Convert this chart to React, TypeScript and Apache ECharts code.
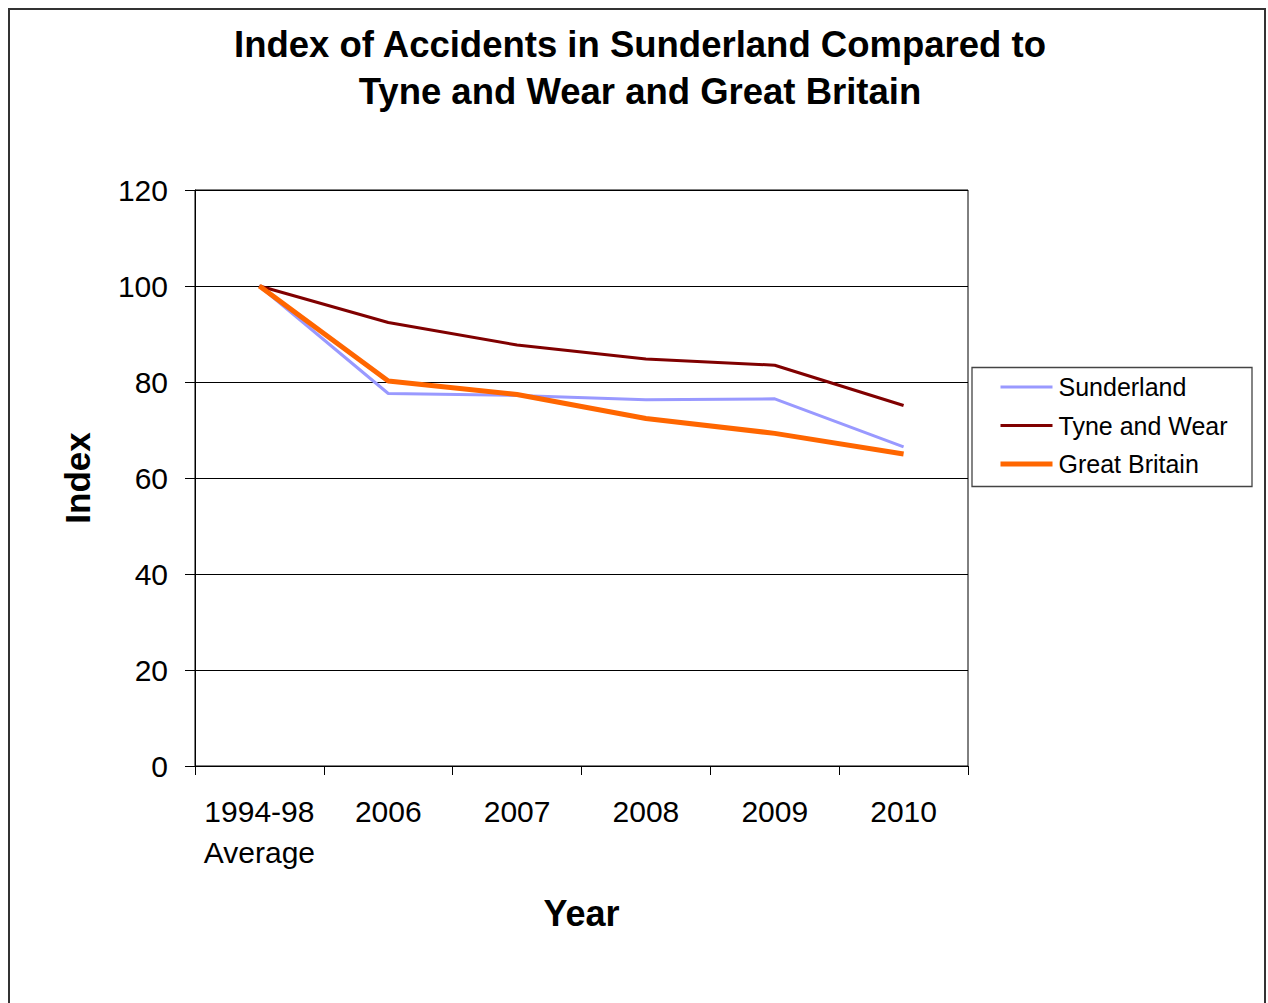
import React, { useEffect, useRef } from "react";
import * as echarts from "echarts";

const categories = ["1994-98\nAverage", "2006", "2007", "2008", "2009", "2010"];
const sunderland = [100, 77.6, 77.2, 76.3, 76.5, 66.5];
const tyneAndWear = [100, 92.4, 87.7, 84.8, 83.5, 75.1];
const greatBritain = [100, 80.2, 77.4, 72.4, 69.3, 65.0];
const yTicks = { min: 0, max: 120, interval: 20 };

const FONT = "'Liberation Sans', Arial, sans-serif";

export default function App() {
  const ref = useRef<HTMLDivElement>(null);
  useEffect(() => {
    document.body.style.margin = "0";
    document.body.style.overflow = "hidden";
    const chart = echarts.init(ref.current!, null, { renderer: "svg" });
    chart.setOption({
      animation: false,
      backgroundColor: "#ffffff",
      textStyle: { fontFamily: FONT },
      title: {
        text: "Index of Accidents in Sunderland Compared to\nTyne and Wear and Great Britain",
        left: 640,
        textAlign: "center",
        top: 21,
        padding: 0,
        textStyle: {
          fontFamily: FONT,
          fontSize: 36.5,
          fontWeight: "bold",
          lineHeight: 47,
          color: "#000",
        },
      },
      graphic: [
        {
          type: "rect",
          shape: { x: 9, y: 9, width: 1256, height: 1100 },
          style: { fill: "none", stroke: "#333", lineWidth: 2 },
          silent: true,
        },
        {
          type: "rect",
          shape: { x: 972, y: 367.5, width: 280, height: 119 },
          style: { fill: "#fff", stroke: "#444", lineWidth: 1.3 },
          z: 0,
          silent: true,
        },
      ],
      legend: {
        orient: "vertical",
        left: 998,
        top: 374.5,
        padding: 0,
        itemWidth: 52,
        itemHeight: 14,
        itemGap: 13.5,
        z: 10,
        itemStyle: { opacity: 0 },
        textStyle: {
          fontFamily: FONT,
          fontSize: 25,
          lineHeight: 25,
          color: "#000",
          padding: [0, 0, 0, 1],
        },
        data: [
          { name: "Sunderland", lineStyle: { width: 3 } },
          { name: "Tyne and Wear", lineStyle: { width: 3 } },
          { name: "Great Britain", lineStyle: { width: 5 } },
        ],
      },
      grid: {
        left: 195,
        top: 190,
        width: 773,
        height: 576,
        show: true,
        borderColor: "#000",
        borderWidth: 1,
        backgroundColor: "transparent",
      },
      xAxis: {
        type: "category",
        data: categories,
        boundaryGap: true,
        name: "Year",
        nameLocation: "middle",
        nameGap: 129,
        nameTextStyle: { fontFamily: FONT, fontSize: 36, fontWeight: "bold", color: "#000" },
        axisLine: { lineStyle: { color: "#000", width: 1 } },
        axisTick: { show: true, length: 9, alignWithLabel: false, lineStyle: { color: "#000" } },
        axisLabel: {
          fontFamily: FONT,
          fontSize: 30,
          lineHeight: 41,
          color: "#000",
          margin: 25,
          interval: 0,
        },
        splitLine: { show: false },
      },
      yAxis: {
        type: "value",
        min: yTicks.min,
        max: yTicks.max,
        interval: yTicks.interval,
        name: "Index",
        nameLocation: "middle",
        nameGap: 100,
        nameRotate: 90,
        nameTextStyle: { fontFamily: FONT, fontSize: 35, fontWeight: "bold", color: "#000" },
        axisLine: { show: true, lineStyle: { color: "#000", width: 1 } },
        axisTick: { show: true, length: 10, lineStyle: { color: "#000" } },
        axisLabel: { fontFamily: FONT, fontSize: 30, color: "#000", margin: 27 },
        splitLine: { show: true, lineStyle: { color: "#000", width: 1 } },
      },
      series: [
        {
          name: "Sunderland",
          type: "line",
          data: sunderland,
          symbol: "none",
          color: "#9999FF",
          lineStyle: { color: "#9999FF", width: 3 },
        },
        {
          name: "Tyne and Wear",
          type: "line",
          data: tyneAndWear,
          symbol: "none",
          color: "#800000",
          lineStyle: { color: "#800000", width: 3 },
        },
        {
          name: "Great Britain",
          type: "line",
          data: greatBritain,
          symbol: "none",
          color: "#FF6600",
          lineStyle: { color: "#FF6600", width: 5 },
        },
      ],
    });
    return () => chart.dispose();
  }, []);
  return <div ref={ref} style={{ width: 1268, height: 1003 }} />;
}
